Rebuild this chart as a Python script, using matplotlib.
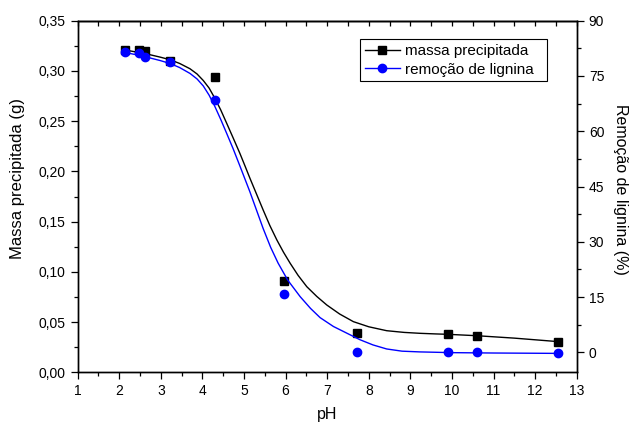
import matplotlib
matplotlib.use("Agg")
import matplotlib.pyplot as plt
from matplotlib.ticker import MultipleLocator, FuncFormatter
from matplotlib.lines import Line2D

plt.rcParams['font.family'] = ['Liberation Sans', 'DejaVu Sans']

# measured points
ph_mass = [2.14, 2.47, 2.63, 3.22, 4.30, 5.97, 7.71, 9.90, 10.60, 12.56]
mass = [0.3208, 0.3208, 0.3200, 0.3100, 0.2936, 0.0912, 0.0388, 0.0378, 0.0364, 0.0305]
ph_lig = [2.14, 2.47, 2.62, 3.22, 4.30, 5.97, 7.71, 9.90, 10.60, 12.56]
lignin = [81.4, 81.2, 80.2, 78.9, 68.5, 15.7, 0.1, 0.0, 0.0, -0.1]

# fitted curves
curve_ph_mass = [2.14, 2.60, 2.98, 3.22, 3.45, 3.70, 3.87, 4.02, 4.16, 4.30, 4.44, 4.58,
                 4.74, 4.90, 5.02, 5.14, 5.30, 5.46, 5.62, 5.79, 5.95, 6.11, 6.30, 6.51,
                 6.75, 6.99, 7.30, 7.63, 8.00, 8.43, 8.85, 9.23, 9.60, 9.90, 10.60, 11.50, 12.56]
curve_mass = [0.3208, 0.3175, 0.3138, 0.3112, 0.3075, 0.3022, 0.2970, 0.2905, 0.2830, 0.2727,
              0.2612, 0.2482, 0.2332, 0.2180, 0.2058, 0.1934, 0.1775, 0.1616, 0.1462, 0.1317,
              0.1195, 0.1085, 0.0965, 0.0852, 0.0755, 0.0670, 0.0580, 0.0504, 0.0453, 0.0414,
              0.0397, 0.0388, 0.0382, 0.0378, 0.0364, 0.0340, 0.0305]
curve_ph_lig = [2.14, 2.60, 2.98, 3.22, 3.45, 3.70, 3.87, 4.02, 4.16, 4.30, 4.44, 4.58,
                4.74, 4.90, 5.02, 5.14, 5.30, 5.46, 5.64, 5.82, 6.05, 6.35, 6.60, 6.83,
                7.15, 7.47, 7.79, 8.10, 8.43, 8.80, 9.23, 10.00, 11.00, 12.56]
curve_lig = [81.4, 80.3, 79.2, 78.4, 77.3, 75.7, 74.2, 72.3, 69.8, 66.7, 63.2, 59.5,
             55.2, 50.6, 47.1, 43.6, 38.6, 33.6, 28.5, 24.2, 19.6, 15.1, 11.9, 9.4,
             7.0, 5.2, 3.4, 2.0, 0.9, 0.3, 0.1, -0.1, -0.2, -0.3]

fig = plt.figure(figsize=(6.3, 4.23), dpi=100)
ax = fig.add_axes([0.1233, 0.1199, 0.9154 - 0.1233, 0.951 - 0.1199])
ax2 = ax.twinx()

ax.plot(curve_ph_mass, curve_mass, color='black', lw=1.0, zorder=2)
ax.plot(ph_mass, mass, ls='none', marker='s', ms=6, color='black', zorder=3)
ax2.plot(curve_ph_lig, curve_lig, color='#0000ff', lw=1.0, zorder=2)
ax2.plot(ph_lig, lignin, ls='none', marker='o', ms=6, color='#0000ff', zorder=3)

ax.set_xlim(1, 13)
ax.set_ylim(0, 0.35)
ax2.set_ylim(-5.43, 90)

ax.xaxis.set_major_locator(MultipleLocator(1))
ax.xaxis.set_minor_locator(MultipleLocator(0.5))
ax.yaxis.set_major_locator(MultipleLocator(0.05))
ax.yaxis.set_minor_locator(MultipleLocator(0.025))
ax2.yaxis.set_major_locator(MultipleLocator(15))
ax2.yaxis.set_minor_locator(MultipleLocator(7.5))

ax.yaxis.set_major_formatter(FuncFormatter(lambda v, p: f"{v:.2f}".replace('.', ',')))
ax2.yaxis.set_major_formatter(FuncFormatter(lambda v, p: f"{v:.0f}"))

ax.tick_params(axis='both', which='major', direction='out', length=5.2, width=0.9,
               labelsize=10, colors='black', pad=3.5)
ax.tick_params(axis='both', which='minor', direction='out', length=3, width=0.9)
ax2.tick_params(axis='y', which='major', direction='out', length=5.2, width=0.9,
                labelsize=10, pad=3.5)
ax2.tick_params(axis='y', which='minor', direction='out', length=3, width=0.9)

sec = ax.secondary_xaxis('top')
sec.xaxis.set_major_locator(MultipleLocator(0.5))
sec.tick_params(axis='x', which='major', direction='in', length=3.5, width=0.9, labeltop=False)
sec.tick_params(axis='x', which='minor', length=0)
sec.spines['top'].set_linewidth(1.0)

for a in (ax, ax2):
    for s in a.spines.values():
        s.set_linewidth(1.0)

ax.set_xlabel('pH', fontsize=11.5, labelpad=6)
ax.set_ylabel('Massa precipitada (g)', fontsize=12)
ax.yaxis.set_label_coords(-0.106, 0.551)
ax2.set_ylabel('Remoção de lignina (%)', fontsize=11.5, rotation=-90, va='center')
ax2.yaxis.set_label_coords(1.0874, 0.52)

handles = [
    Line2D([], [], color='black', lw=1.0, marker='s', ms=6),
    Line2D([], [], color='#0000ff', lw=1.0, marker='o', ms=6),
]
leg = ax.legend(handles, ['massa precipitada  ', 'remoção de lignina  '],
                loc='upper left', bbox_to_anchor=(0.566, 0.947), fontsize=11,
                frameon=True, fancybox=False, edgecolor='black', framealpha=1,
                handlelength=2.3, handletextpad=0.35, borderpad=0.3, labelspacing=0.3,
                borderaxespad=0)
leg.get_frame().set_linewidth(0.8)

fig.savefig('out.png', dpi=100)
